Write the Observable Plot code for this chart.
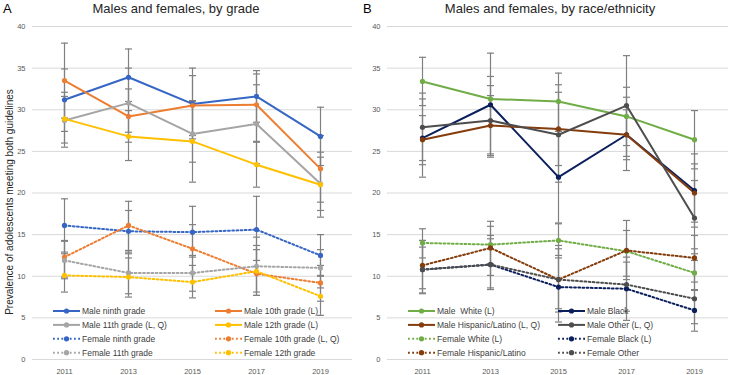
<!DOCTYPE html>
<html><head><meta charset="utf-8">
<script src="https://cdn.jsdelivr.net/npm/d3@7"></script>
<script src="https://cdn.jsdelivr.net/npm/@observablehq/plot@0.6"></script>
<style>
body{margin:0;background:#fff;font-family:"Liberation Sans",Arial,sans-serif;}
#wrap{display:flex;width:731px;height:375px;overflow:hidden;}
.panel{position:relative;}
.title{height:18px;line-height:18px;font-size:13px;color:#262626;text-align:center;white-space:nowrap;}
.letter{position:absolute;left:3px;top:0;font-size:13px;line-height:18px;color:#000;}
svg{display:block}
</style></head><body>
<div id="wrap">
 <div class="panel" id="pA" style="width:360px"><div class="letter">A</div><div class="title" style="padding-right:8px">Males and females, by grade</div></div>
 <div class="panel" id="pB" style="width:371px"><div class="letter">B</div><div class="title" style="padding-left:9px">Males and females, by race/ethnicity</div></div>
</div>
<script>
const years = ["2011", "2013", "2015", "2017", "2019"];
const yTicks = [0, 5, 10, 15, 20, 25, 30, 35, 40];
const yLabel = "Prevalence of adolescents meeting both guidelines";

// Panel A: by grade
const gradeNames = ["Male ninth grade", "Male 10th grade (L)", "Male 11th grade (L, Q)", "Male 12th grade (L)",
  "Female ninth grade", "Female 10th grade (L, Q)", "Female 11th grade", "Female 12th grade"];
const gradeColors = ["#3566C4", "#ED7D31", "#A5A5A5", "#FFC000", "#3566C4", "#ED7D31", "#A5A5A5", "#FFC000"];
const gradeValues = [
  [31.2, 33.9, 30.7, 31.6, 26.8],
  [33.5, 29.2, 30.5, 30.6, 22.9],
  [28.7, 30.8, 27.1, 28.3, 21.1],
  [28.9, 26.8, 26.2, 23.4, 21.0],
  [16.1, 15.4, 15.3, 15.6, 12.5],
  [12.3, 16.1, 13.3, 10.3, 9.2],
  [11.9, 10.4, 10.4, 11.2, 11.0],
  [10.1, 9.9, 9.3, 10.6, 7.6]
];
const gradeLow = [
  [27.4, 31.0, 26.5, 28.5, 23.3],
  [29.0, 26.1, 26.9, 26.2, 18.9],
  [25.5, 27.3, 23.7, 23.5, 17.1],
  [26.0, 23.9, 21.3, 20.7, 17.9],
  [12.9, 12.7, 12.3, 11.9, 10.1],
  [9.9, 13.1, 10.4, 7.7, 7.0],
  [9.7, 7.9, 8.2, 8.1, 8.6],
  [8.1, 7.5, 7.4, 7.7, 5.3]
];
const gradeHigh = [
  [34.9, 37.3, 35.0, 34.7, 30.3],
  [38.0, 32.5, 34.1, 34.3, 26.9],
  [32.1, 35.0, 31.0, 33.0, 24.9],
  [31.6, 29.9, 31.1, 26.1, 24.3],
  [19.3, 17.9, 18.4, 19.6, 15.0],
  [14.3, 19.0, 16.2, 13.2, 11.3],
  [14.2, 12.9, 12.5, 14.7, 13.2],
  [12.7, 12.2, 11.3, 13.7, 10.0]
];

// Panel B: by race/ethnicity
const raceNames = ["Male  White (L)", "Male Black", "Male Hispanic/Latino (L, Q)", "Male Other (L, Q)",
  "Female White (L)", "Female Black (L)", "Female Hispanic/Latino", "Female Other"];
const raceColors = ["#70AD47", "#0B1F5C", "#843C0C", "#4D4D4D", "#70AD47", "#0B1F5C", "#843C0C", "#4D4D4D"];
const raceValues = [
  [33.4, 31.3, 31.0, 29.2, 26.4],
  [26.6, 30.6, 21.9, 27.0, 20.3],
  [26.4, 28.1, 27.7, 27.0, 20.0],
  [27.9, 28.7, 27.0, 30.5, 17.0],
  [14.0, 13.8, 14.3, 13.0, 10.4],
  [10.8, 11.4, 8.7, 8.5, 5.9],
  [11.3, 13.4, 9.6, 13.1, 12.2],
  [10.8, 11.4, 9.6, 9.0, 7.3]
];
const raceLow = [
  [30.5, 28.6, 27.6, 25.7, 22.9],
  [21.9, 24.3, 16.4, 22.7, 15.9],
  [23.4, 24.7, 23.3, 24.0, 16.5],
  [23.9, 24.5, 21.3, 24.4, 12.7],
  [12.2, 11.5, 12.5, 10.0, 8.3],
  [7.9, 8.4, 5.7, 4.7, 3.4],
  [8.5, 10.1, 6.1, 9.6, 9.3],
  [8.0, 8.6, 4.5, 5.8, 4.3]
];
const raceHigh = [
  [36.3, 34.0, 34.4, 32.7, 29.9],
  [31.3, 36.8, 27.4, 31.5, 24.7],
  [29.3, 31.7, 32.1, 30.0, 23.5],
  [32.0, 32.9, 33.0, 36.5, 21.5],
  [15.7, 16.0, 16.3, 15.5, 13.3],
  [14.3, 14.9, 12.2, 12.3, 8.4],
  [14.3, 16.6, 13.3, 16.7, 14.9],
  [13.5, 14.5, 13.7, 11.7, 11.9]
];

const FONT = '"Liberation Sans", Arial, sans-serif';
const capSymbol = {draw(ctx) { ctx.moveTo(-3.5, 0); ctx.lineTo(3.5, 0); }};
const DOTS = "1.8,2.4";

function buildRows(names, values, lows, highs) {
  const rows = [];
  names.forEach((name, s) => {
    years.forEach((yr, i) => {
      rows.push({series: name, year: yr, value: values[s][i], lo: lows[s][i], hi: highs[s][i], female: s >= 4});
    });
  });
  return rows;
}

function makePanel(cfg) {
  const rows = buildRows(cfg.names, cfg.values, cfg.lows, cfg.highs);
  const caps = rows.flatMap(d => [{year: d.year, v: d.lo}, {year: d.year, v: d.hi}]);
  const marks = [
    Plot.gridY(yTicks, {stroke: "#d9d9d9", strokeOpacity: 1, strokeWidth: 1}),
    Plot.axisX({tickSize: 0, tickPadding: 9, label: null, fill: "#595959"}),
    Plot.axisY(yTicks, {tickSize: 0, tickPadding: 7, label: null, fill: "#595959"}),
    Plot.ruleX(rows, {x: "year", y1: "lo", y2: "hi", stroke: "#808080", strokeWidth: 1.2}),
    Plot.dot(caps, {x: "year", y: "v", symbol: capSymbol, stroke: "#808080", strokeWidth: 1.2, fill: "none"}),
    Plot.line(rows.filter(d => !d.female), {x: "year", y: "value", z: "series", stroke: "series", strokeWidth: 2}),
    Plot.line(rows.filter(d => d.female), {x: "year", y: "value", z: "series", stroke: "series", strokeWidth: 2, strokeDasharray: DOTS}),
    Plot.dot(rows, {x: "year", y: "value", fill: "series", r: 2.6})
  ];
  if (cfg.ylabel) {
    marks.push(Plot.text([cfg.ylabel], {frameAnchor: "left", text: d => d, rotate: -90, dx: -23, dy: 9, fontSize: 10, fill: "#262626", textAnchor: "middle"}));
  }
  const svg = Plot.plot({
    width: cfg.width, height: 357,
    marginTop: 8, marginBottom: 16, marginLeft: cfg.marginLeft, marginRight: cfg.marginRight,
    style: {fontFamily: FONT, fontSize: "7.5px", color: "#595959", background: "white"},
    x: {type: "point", domain: years, padding: 0.5, axis: null},
    y: {domain: [0, 40], axis: null},
    color: {domain: cfg.names, range: cfg.colors},
    marks
  });
  // legend inside the plot area
  const g = d3.select(svg).append("g").attr("font-family", FONT).attr("font-size", 8.5)
    .attr("fill", "#404040").attr("text-anchor", "start");
  cfg.names.forEach((name, i) => {
    const col = i % 2, row = Math.floor(i / 2);
    const x0 = cfg.legendX[col], y0 = 293 + row * 13.9;
    const dashed = i >= 4;
    g.append("line").attr("x1", x0).attr("x2", x0 + 27).attr("y1", y0).attr("y2", y0)
      .attr("stroke", cfg.colors[i]).attr("stroke-width", 2)
      .attr("stroke-dasharray", dashed ? DOTS : null);
    g.append("circle").attr("cx", x0 + 13.5).attr("cy", y0).attr("r", 2.6).attr("fill", cfg.colors[i]);
    g.append("text").attr("x", x0 + 29).attr("y", y0).attr("dy", "0.35em").attr("text-anchor", "start").text(name);
  });
  return svg;
}

document.getElementById("pA").append(makePanel({
  names: gradeNames, colors: gradeColors, values: gradeValues, lows: gradeLow, highs: gradeHigh,
  width: 360, marginLeft: 32, marginRight: 8, ylabel: yLabel, legendX: [53, 215]
}));
document.getElementById("pB").append(makePanel({
  names: raceNames, colors: raceColors, values: raceValues, lows: raceLow, highs: raceHigh,
  width: 371, marginLeft: 27, marginRight: 3, ylabel: null, legendX: [48, 198]
}));
</script>
</body></html>
